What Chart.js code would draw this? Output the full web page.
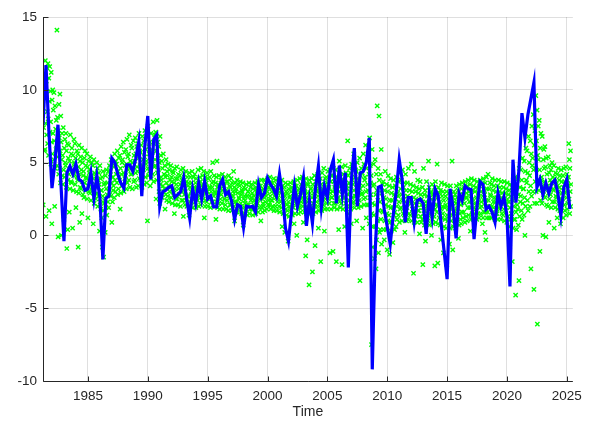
<!DOCTYPE html>
<html>
<head>
<meta charset="utf-8">
<title>Time series with individual readings</title>
<script src="https://cdn.jsdelivr.net/npm/chart.js@4/dist/chart.umd.min.js"></script>
<style>
  html, body { margin: 0; padding: 0; background: #ffffff; }
  #wrap { width: 589px; height: 426px; }
</style>
</head>
<body>
<div id="wrap"><canvas id="c" width="589" height="426"></canvas></div>
<script>
// Quarterly series: first quarter and spacing (years)
const firstQuarter = 1981.25;
const quarterStep = 0.25;

// Main quarterly series (blue line), one row per calendar year
const observed = [
  7.6, 11.7, 7.0,
  3.25, 5.0, 7.6, 3.5,
  -0.4, 4.3, 4.75, 4.2,
  4.9, 3.85, 3.7, 3.1,
  3.2, 4.3, 2.55, 4.1,
  2.6, -1.65, 2.55, 2.7,
  5.3, 5.0, 4.2, 3.6,
  3.25, 4.85, 4.85, 4.4,
  5.3, 6.45, 2.7, 6.1,
  8.2, 3.85, 6.6, 6.9,
  2.0, 3.0, 3.1, 3.3,
  3.4, 2.6, 2.8, 3.0,
  3.95, 2.5, 1.2, 3.2,
  2.2, 3.6, 2.5, 3.7,
  2.5, 2.7, 1.95, 1.95,
  3.4, 3.85, 2.8, 3.0,
  2.35, 1.1, 2.1, 2.0,
  0.55, 2.0, 1.95, 2.0,
  1.6, 3.5, 2.6, 2.9,
  3.95, 3.5, 3.2, 2.7,
  4.2, 2.8, 0.5, -0.4,
  1.55, 3.4, 2.0, 2.8,
  3.95, 0.65, 2.4, 0.85,
  3.2, 4.75, 1.9, 3.4,
  2.6, 4.5, 5.2, 2.2,
  4.8, 2.8, 4.3, -2.2,
  3.8, 6.0, 2.0, 4.3,
  4.4, 5.0, 6.7, -9.2,
  -1.0, 3.3, 3.4, 1.8,
  0.6, -0.6, 1.4, 3.0,
  5.2, 3.8, 0.9, 2.6,
  2.6, 0.9, 2.4, 2.5,
  2.2, 0.1, 2.75, 1.25,
  3.2, 2.75, 0.8, -1.1,
  -3.0, 3.2, 1.9, -0.2,
  2.9, 2.4, 3.4, 3.2,
  3.15, -0.25, 2.0, 3.7,
  3.5, 1.8, 2.0, 1.6,
  0.9, 2.9, 2.0, 2.65,
  1.3, -3.5, 5.2, 2.25,
  4.5, 8.4, 6.7, 8.3,
  9.4, 10.5, 3.3, 3.85,
  2.8, 3.6, 2.9, 3.6,
  3.8, 2.9, 1.35, 3.3,
  3.85, 1.8
];

// Individual readings (green crosses), one list per quarter
const individual1980s = [
  [8.2, 11.4, 6.6, 9.0, 2.1, 7.4, 10.1, 5.8],
  [9.6, 5.9, 12.0, 7.7, 1.3, 10.6, 6.9, 11.5, 8.5],
  [6.3, 11.8, 8.0, 5.5, 10.8, 1.7, 9.2, 11.6, 7.1, 9.9],
  [7.8, 4.9, 11.2, 6.4, 0.8, 9.3, 5.6, 10.0, 7.0, 8.6],
  [5.2, 9.8, 6.5, 2.0, 8.9, 4.6, 7.3, 5.9, 7.9],
  [6.0, 14.1, 4.8, 8.1, 5.4, -0.1, 7.2, 4.2, 9.0, 6.7],
  [4.6, 9.7, 5.8, 3.6, 8.2, 6.4, 0.0, 5.2, 7.0, 4.1],
  [5.5, 3.5, 7.4, 4.5, 1.1, 6.0, 4.0, 6.6, 5.0],
  [4.8, 7.0, 3.3, 5.8, -0.9, 4.3, 6.3, 0.4, 3.8, 5.3],
  [6.2, 4.2, 1.6, 5.1, 3.2, 6.9, 4.6, 3.7, 5.6],
  [3.6, 6.0, 4.5, 0.5, 5.5, 3.1, 4.1, 6.6, 5.0],
  [4.9, 6.3, 3.5, 5.3, 1.9, 4.4, 3.0, 5.8, 4.0],
  [3.8, 5.6, -0.8, 4.7, 2.9, 6.2, 4.2, 0.9, 5.1, 3.3],
  [5.4, 3.2, 4.5, 6.0, 1.5, 3.7, 5.0, 2.8, 4.1],
  [4.4, 2.6, 5.3, 3.6, 5.8, 3.1, 4.8, 4.0],
  [3.9, 5.6, 2.5, 4.7, 1.2, 3.4, 5.1, 3.0, 4.3],
  [4.5, 2.9, 5.4, 3.7, 2.4, 4.1, 5.0, 3.3],
  [3.1, 4.8, 0.8, 3.9, 5.2, 2.2, 4.3, 2.7, 3.5],
  [4.2, 2.5, 3.3, 5.0, 2.9, 4.6, 2.0, 3.8],
  [2.7, 4.3, 3.5, 0.3, 4.8, 2.3, 3.9, 1.8, 3.1],
  [3.1, 1.2, 4.0, -0.8, 2.7, 4.4, 1.7, -1.5, 3.5, 2.2],
  [2.4, 3.6, 0.2, 4.1, 1.9, 3.2, 4.5, 1.4, 2.8],
  [3.6, 2.3, 4.4, 1.9, 3.2, 4.8, 2.8, 4.0],
  [4.4, 2.7, 5.2, 3.6, 0.9, 4.8, 2.3, 4.0, 3.1],
  [3.4, 4.7, 2.6, 5.6, 3.8, 3.0, 5.1, 4.2],
  [4.9, 3.6, 5.8, 2.8, 4.4, 3.2, 5.3, 4.0],
  [3.8, 5.5, 1.8, 4.6, 2.9, 6.1, 4.2, 3.4, 5.0],
  [5.2, 3.5, 6.4, 4.3, 3.0, 5.7, 3.9, 4.8],
  [4.1, 5.9, 3.2, 4.9, 6.6, 3.6, 5.4, 4.5],
  [5.6, 3.8, 6.9, 4.6, 3.3, 5.1, 4.2, 6.2],
  [4.2, 6.0, 3.2, 5.0, 4.6, 6.5, 3.7, 5.5],
  [5.1, 3.8, 6.7, 4.3, 5.6, 3.3, 6.1, 4.7],
  [4.4, 6.3, 3.4, 5.3, 7.0, 3.9, 5.8, 4.8],
  [5.7, 3.8, 6.2, 4.3, 3.3, 6.8, 4.7, 5.2],
  [4.5, 6.5, 3.5, 5.4, 7.2, 4.0, 5.9, 4.9]
];

const individual1990s = [
  [5.1, 3.6, 6.8, 1.0, 4.6, 7.5, 4.1, 6.1, 5.6],
  [4.4, 6.4, 3.4, 5.4, 7.0, 3.9, 5.9, 4.9],
  [5.7, 4.2, 7.8, 3.7, 6.3, 4.7, 6.9, 5.2],
  [4.8, 7.1, 2.5, 5.8, 3.8, 7.9, 4.3, 6.4, 5.3],
  [4.5, 6.1, 3.0, 5.0, 2.2, 6.8, 3.5, 5.5, 4.0],
  [3.8, 5.1, 2.6, 4.6, 3.4, 5.6, 3.0, 4.2],
  [3.2, 4.8, 1.8, 4.0, 2.8, 5.2, 3.6, 2.4, 4.4],
  [4.1, 2.7, 4.9, 3.4, 2.3, 4.5, 3.0, 3.8],
  [3.3, 4.8, 2.6, 4.0, 3.7, 2.2, 4.4, 3.0],
  [4.3, 2.9, 3.6, 1.5, 4.6, 3.2, 2.1, 3.9, 2.5],
  [3.5, 4.7, 2.5, 3.9, 2.1, 4.2, 3.2, 2.8],
  [2.8, 4.1, 3.5, 2.0, 4.5, 3.1, 2.4, 3.8],
  [3.8, 2.4, 4.6, 1.3, 3.1, 4.2, 2.8, 3.5, 2.1],
  [3.0, 4.4, 2.4, 3.7, 2.0, 4.0, 2.7, 3.4],
  [2.7, 3.6, 1.4, 4.3, 2.3, 3.3, 4.0, 2.0, 3.0],
  [3.6, 2.3, 4.4, 3.0, 1.9, 4.0, 2.6, 3.3],
  [2.9, 4.2, 2.3, 3.6, 1.9, 3.9, 2.6, 3.2],
  [3.3, 2.4, 4.5, 3.0, 2.0, 3.6, 2.7, 4.0],
  [3.7, 2.1, 4.6, 2.8, 3.4, 2.4, 4.1, 3.1],
  [2.7, 4.4, 3.4, 1.2, 3.7, 2.0, 4.0, 2.4, 3.0],
  [3.6, 2.3, 4.3, 3.0, 2.0, 3.9, 2.7, 3.3],
  [2.6, 4.0, 3.3, 1.9, 4.4, 3.0, 2.3, 3.6],
  [3.3, 5.0, 2.3, 3.7, 2.7, 4.1, 2.0, 3.0],
  [2.9, 3.6, 1.1, 4.0, 2.3, 5.1, 3.3, 1.9, 2.6],
  [3.5, 2.2, 4.1, 2.9, 1.8, 3.2, 2.5, 3.8],
  [2.8, 3.8, 2.2, 4.2, 3.1, 1.8, 3.5, 2.5],
  [3.4, 2.5, 4.0, 2.1, 3.1, 1.8, 3.7, 2.8],
  [2.4, 3.7, 3.0, 1.7, 4.1, 2.7, 3.4, 2.1],
  [3.3, 2.1, 3.9, 2.7, 1.7, 3.6, 2.4, 3.0],
  [2.7, 4.4, 2.0, 3.3, 1.0, 3.6, 2.3, 3.0, 1.6],
  [3.2, 2.3, 3.8, 1.6, 2.9, 2.0, 3.5, 2.6],
  [2.5, 3.4, 1.9, 3.7, 2.2, 2.8, 1.5, 3.1],
  [3.0, 1.9, 3.6, 0.7, 2.5, 3.3, 1.5, 2.7, 2.2],
  [2.4, 3.2, 1.8, 3.5, 2.1, 2.7, 1.4, 3.0],
  [3.0, 2.1, 3.6, 1.5, 2.7, 1.8, 3.3, 2.4],
  [2.6, 3.5, 1.8, 2.9, 1.4, 3.2, 2.1, 2.4],
  [2.7, 1.8, 3.6, 2.4, 1.5, 3.3, 2.1, 3.0],
  [3.1, 2.2, 3.7, 1.6, 2.8, 3.4, 1.9, 2.5],
  [2.5, 3.4, 1.0, 2.8, 3.8, 1.9, 3.1, 1.6, 2.2],
  [3.2, 2.0, 3.8, 2.6, 1.7, 3.5, 2.3, 2.9]
];

const individual2000s = [
  [2.7, 3.6, 1.8, 3.0, 3.9, 2.1, 3.3, 2.4],
  [3.3, 2.1, 4.0, 2.7, 1.8, 3.6, 2.4, 3.0],
  [2.4, 3.6, 2.0, 3.3, 3.9, 1.7, 2.7, 3.0],
  [3.2, 2.0, 3.8, 2.6, 1.7, 3.5, 2.3, 2.9],
  [2.6, 3.9, 2.0, 3.2, 1.6, 3.5, 2.3, 2.9],
  [3.1, 1.9, 3.8, 0.6, 2.5, 3.4, 1.5, 2.8, 2.2],
  [2.4, 3.3, 0.2, 2.7, 3.6, 1.8, 3.0, 1.4, 2.1],
  [2.9, 1.7, 3.5, -0.4, 2.3, 3.2, 1.3, 2.6, 2.0],
  [2.7, 3.6, 1.8, 3.0, 2.1, 3.3, 1.4, 2.4],
  [3.1, 1.9, 3.7, 0.8, 2.5, 3.4, 1.5, 2.8, 2.2],
  [2.5, 3.4, 0.0, 2.8, 3.8, 1.9, 3.1, 1.5, 2.2],
  [3.2, 1.9, 3.9, 2.6, 1.6, 3.5, 2.3, 2.9],
  [2.6, 4.0, 2.0, 3.3, 0.9, 3.6, 2.3, 1.6, 3.0],
  [3.2, 1.9, -1.4, 3.9, 2.6, 1.5, 3.5, -0.3, 2.3, 2.9],
  [2.5, 3.5, 1.9, -3.4, 3.8, 2.2, 2.9, 1.5, 3.2],
  [3.2, 1.9, 3.9, 2.6, -2.5, 3.5, 1.5, 2.2, 2.9],
  [2.7, 4.1, 2.0, -0.7, 3.3, 1.6, 3.7, 2.3, 3.0],
  [3.1, 2.0, 4.2, 2.7, 0.5, 3.8, 1.7, 3.4, 2.4],
  [2.8, 3.9, -1.8, 2.1, 3.5, 1.7, 4.3, 2.4, 3.1],
  [3.2, 2.1, 4.6, 2.8, 0.3, 3.5, 1.8, 3.9, 2.5],
  [2.9, 4.0, 2.2, 3.6, 1.8, 4.4, 2.5, 3.2],
  [3.3, 2.2, 4.5, -1.2, 2.9, 3.7, 1.8, 4.1, 2.6],
  [2.6, 4.1, 3.0, -1.1, 4.6, 2.2, 3.7, 1.9, 3.3],
  [3.2, 2.2, 4.5, 2.9, -1.8, 3.6, 1.8, 4.0, 2.5],
  [2.6, 3.8, 0.4, 3.0, 5.1, 2.3, 4.2, 1.9, 3.4],
  [3.4, 2.2, 4.7, -2.0, 2.6, 3.8, 1.8, 4.2, 3.0],
  [2.6, 3.8, 0.6, 3.0, 4.8, 2.2, 4.3, 1.8, 3.4],
  [3.2, 2.0, 6.5, 2.8, 4.1, 1.5, 3.6, 2.4, 4.6],
  [3.0, 4.3, 1.8, 3.4, 0.8, 4.9, 2.6, 3.8, 2.2],
  [3.5, 2.3, 5.6, 3.1, 1.9, 4.0, 2.7, 4.5],
  [2.7, 4.4, 1.0, 3.1, 5.0, 2.3, 3.9, 1.9, 3.5],
  [3.6, 2.4, 5.3, -3.1, 3.2, 4.1, 2.0, 4.6, 2.8],
  [2.9, 4.3, 0.5, 3.4, 5.6, 2.5, 4.9, 2.1, 3.8],
  [4.0, 2.6, 6.2, 3.0, 1.2, 4.6, 2.1, 5.2, 3.5],
  [3.1, 5.6, 2.1, 4.2, 0.8, 6.7, 2.6, 4.8, 3.6],
  [2.8, 4.1, -7.5, 1.5, 5.9, 2.2, -0.8, 3.4, 0.6, 4.9],
  [1.4, 3.5, -1.6, 2.1, 5.2, 0.6, 2.8, -2.3, 4.2, -0.3],
  [3.1, 8.9, 1.0, 2.4, 4.6, -1.2, 1.7, 8.2, 3.8, 0.2],
  [2.3, 0.4, 4.2, 1.1, 5.9, -0.6, 2.9, 1.7, 3.5],
  [1.6, 3.7, 0.4, 2.6, -0.3, 3.1, 1.0, 4.4, 2.1]
];

const individual2010s = [
  [2.5, 0.4, 3.5, 1.5, -1.0, 3.0, 1.0, 4.1, 2.0],
  [1.4, 3.4, -1.3, 2.4, 0.9, 3.9, 1.9, 0.3, 2.9],
  [2.4, 0.9, 3.3, -0.5, 1.9, 3.8, 1.4, 2.8, 0.4],
  [1.6, 3.4, 2.5, 0.6, 4.0, 2.0, 1.1, 2.9],
  [2.7, 1.4, 3.7, 2.3, 0.9, 4.3, 1.8, 3.2],
  [1.9, 3.8, 2.8, 1.0, 4.5, 2.4, 1.5, 3.3],
  [2.7, 1.4, 3.6, 0.2, 2.3, 4.2, 1.9, 3.1, 1.0],
  [1.9, 3.6, 2.7, 1.1, 4.6, 2.3, 1.5, 3.1],
  [2.6, 1.4, 3.5, 2.2, 4.9, 1.0, 3.0, 1.8],
  [1.8, 3.4, -2.6, 2.6, 0.9, 4.4, 2.2, 1.4, 3.0],
  [2.5, 1.3, 3.3, 2.1, 0.9, 3.8, 1.7, 2.9],
  [1.7, 3.2, 0.1, 2.4, 3.7, 1.3, 2.8, 0.9, 2.1],
  [2.5, 1.1, 3.3, -2.0, 1.9, 4.6, 1.5, 2.8, 0.7],
  [1.7, 3.1, -0.4, 2.3, 0.9, 3.7, 2.0, 1.3, 2.7],
  [2.2, 1.0, 5.1, 1.8, 3.3, 0.7, 2.6, 1.5, 2.9],
  [1.4, 3.0, 0.0, 2.5, 3.5, 1.1, 2.1, 0.8, 2.8],
  [2.3, 1.3, 3.3, -2.1, 1.8, 3.7, 0.9, 2.8, 2.1],
  [1.6, 4.9, 2.6, -1.9, 0.8, 3.3, 2.1, 1.2, 2.9],
  [2.3, 0.7, 3.1, -0.3, 1.8, 3.6, 1.2, 2.7, 2.0],
  [1.5, 3.0, -1.2, 2.4, 0.6, 3.5, 1.9, 1.1, 2.7],
  [2.1, 0.5, 3.0, -2.0, 1.4, 3.4, 1.0, 2.5, 1.8],
  [1.3, 2.9, -0.6, 2.2, 0.5, 3.4, 1.8, 1.0, 2.6],
  [2.0, 5.1, 1.4, -1.0, 2.6, 0.6, 3.0, 1.7, 2.3],
  [1.1, 2.8, 0.5, 2.2, 3.4, 1.5, 2.6, 1.8],
  [1.9, 3.1, -0.2, 2.4, 0.7, 3.5, 1.5, 2.8, 1.1],
  [2.1, 0.8, 3.2, 1.6, 3.6, 2.5, 1.2, 2.8],
  [1.6, 3.3, 2.2, 0.9, 3.7, 2.6, 1.3, 2.9],
  [2.6, 1.0, 3.4, 1.9, 3.8, 1.4, 3.0, 2.3],
  [1.9, 3.5, 0.3, 2.7, 1.1, 3.9, 2.3, 1.5, 3.1],
  [2.5, 1.1, 3.4, 1.9, 3.8, 1.5, 3.0, 2.2],
  [1.8, 3.3, 2.6, 1.1, 3.7, 2.2, 1.5, 2.9],
  [2.6, 1.2, 3.4, 1.9, 3.8, 1.5, 3.0, 2.3],
  [2.0, 3.5, 0.8, 2.7, 1.2, 3.9, 2.4, 1.6, 3.1],
  [2.8, 0.2, 3.6, 1.6, -0.3, 2.4, 4.0, 1.2, 3.2, 2.0],
  [1.6, 4.2, 2.4, 1.2, 3.2, 2.0, 3.6, 2.8],
  [2.7, 1.2, 3.5, 2.0, 3.9, 1.6, 3.1, 2.3],
  [1.9, 3.4, 2.6, 1.1, 3.8, 2.3, 1.5, 3.0],
  [2.6, 1.5, 3.4, 1.1, 2.2, 3.8, 1.9, 3.0],
  [1.8, 3.3, 2.2, 1.1, 3.7, 2.6, 1.5, 2.9],
  [2.5, 1.4, 3.3, 1.8, 3.7, 1.0, 2.9, 2.2]
];

const individual2020s = [
  [1.7, 3.2, 2.1, 0.9, 3.6, 2.5, 1.3, 2.8],
  [2.3, 0.6, 3.1, -0.8, 1.9, 3.5, 1.1, 2.7, 1.5],
  [1.5, 3.3, -1.8, 2.4, 0.5, 3.8, 2.0, 1.1, 2.8],
  [2.5, 1.1, 4.0, -4.1, 1.6, 3.0, 0.4, 3.5, 2.1],
  [1.8, 3.9, 0.7, 2.8, -3.1, 4.6, 1.3, 3.3, 2.3],
  [2.7, 4.5, 1.7, 3.8, 1.1, 5.3, 2.2, 3.2],
  [3.2, 1.4, 5.1, 2.6, 0.0, 4.4, 2.0, 6.0, 3.8],
  [3.6, 5.8, 2.4, 4.3, 1.7, 6.8, 3.0, 5.0],
  [4.1, 2.0, 6.5, 3.4, -2.3, 5.6, 2.7, 7.5, 4.8],
  [5.3, 3.0, 8.3, 4.5, -3.7, 6.2, 2.2, 7.2, 3.7],
  [4.6, 9.6, 3.0, 6.5, 2.2, 8.6, -6.1, 5.5, 3.8, 7.5],
  [5.2, 3.1, 7.9, 4.5, -1.1, 6.0, 2.4, 7.0, 3.8],
  [4.0, 2.2, 6.8, 3.4, 0.0, 5.2, 2.8, 5.9, 4.6],
  [3.7, 6.1, 2.6, 4.7, -0.1, 5.3, 2.1, 4.2, 3.2],
  [3.4, 2.0, 5.4, 2.9, 0.9, 4.3, 2.5, 4.8, 3.8],
  [2.8, 4.5, 1.9, 3.6, 5.0, 2.3, 4.0, 3.2],
  [3.1, 4.8, 0.5, 2.3, 3.9, 1.9, 4.3, 2.7, 3.5],
  [2.6, 4.2, 1.2, 3.4, 1.8, 4.6, 3.0, 2.2, 3.8],
  [3.3, 1.7, 4.1, 0.8, 2.5, 4.5, 2.1, 3.7, 2.9],
  [2.5, 4.1, 1.2, 3.3, 4.6, 2.1, 3.7, 1.7, 2.9],
  [3.0, 4.7, 1.4, 2.6, 4.2, 1.8, 3.8, 2.2, 3.4],
  [4.0, 6.3, 2.5, 5.2, 1.5, 4.6, 3.0, 5.8, 2.0, 3.5]
];

// Axis ticks
const xTicks = [1985, 1990, 1995, 2000, 2005, 2010, 2015, 2020, 2025];
const yTicks = [-10, -5, 0, 5, 10, 15];
const xLabel = 'Time';

// Build point lists for the library
const quarterOf = i => firstQuarter + i * quarterStep;

const linePoints = observed.map((v, i) => ({ x: quarterOf(i), y: v }));

const readingRows = [].concat(individual1980s, individual1990s, individual2000s,
                              individual2010s, individual2020s);
const cloudPoints = [];
readingRows.forEach((row, i) => {
  const q = quarterOf(i);
  row.forEach((v, k) => {
    // readings are spread across the span of their quarter
    cloudPoints.push({ x: q - quarterStep / 2 + (k + 0.5) * quarterStep / row.length, y: v });
  });
});

const axisColor = '#262626';
const fontFamily = '"Liberation Sans", Arial, Helvetica, sans-serif';

// Axis lines and inward tick marks, drawn over the data
const axesPlugin = {
  id: 'inwardAxes',
  afterDatasetsDraw(chart) {
    const { ctx, chartArea: a, scales: { x, y } } = chart;
    ctx.save();
    ctx.strokeStyle = axisColor;
    ctx.lineWidth = 1;
    ctx.beginPath();
    const left = Math.round(a.left) + 0.5;
    const bottom = Math.round(a.bottom) + 0.5;
    ctx.moveTo(left, a.top);
    ctx.lineTo(left, bottom);
    ctx.lineTo(a.right, bottom);
    xTicks.forEach(v => {
      const px = Math.round(x.getPixelForValue(v)) + 0.5;
      ctx.moveTo(px, bottom);
      ctx.lineTo(px, bottom - 5);
    });
    yTicks.forEach(v => {
      const py = Math.round(y.getPixelForValue(v)) + 0.5;
      ctx.moveTo(left, py);
      ctx.lineTo(left + 5, py);
    });
    ctx.stroke();
    ctx.restore();
  }
};

new Chart(document.getElementById('c'), {
  type: 'scatter',
  data: {
    datasets: [
      {
        type: 'line',
        data: linePoints,
        borderColor: '#0000ff',
        borderWidth: 3.2,
        pointRadius: 0,
        tension: 0,
        fill: false,
        order: 1
      },
      {
        type: 'scatter',
        data: cloudPoints,
        pointStyle: 'crossRot',
        pointRadius: 3,
        borderColor: '#00ff00',
        backgroundColor: '#00ff00',
        borderWidth: 1.4,
        order: 2
      }
    ]
  },
  options: {
    responsive: false,
    animation: false,
    devicePixelRatio: 1,
    layout: { padding: { left: 0, top: 17, right: 12, bottom: 0 } },
    plugins: { legend: { display: false }, tooltip: { enabled: false } },
    scales: {
      x: {
        type: 'linear',
        min: 1981.25,
        max: 2025.5,
        afterBuildTicks: s => { s.ticks = xTicks.map(v => ({ value: v })); },
        afterFit: s => { s.height = 45; },
        grid: { color: 'rgba(38,38,38,0.15)', drawTicks: false },
        border: { display: false },
        ticks: {
          padding: 7,
          color: axisColor,
          font: { family: fontFamily, size: 13.5 },
          callback: v => String(v)
        },
        title: {
          display: true,
          text: xLabel,
          color: axisColor,
          font: { family: fontFamily, size: 14 },
          padding: { top: 0, bottom: 5 }
        }
      },
      y: {
        type: 'linear',
        min: -10,
        max: 15,
        afterBuildTicks: s => { s.ticks = yTicks.map(v => ({ value: v })); },
        afterFit: s => { s.width = 43; },
        grid: { color: 'rgba(38,38,38,0.15)', drawTicks: false },
        border: { display: false },
        ticks: {
          padding: 6,
          color: axisColor,
          font: { family: fontFamily, size: 13.5 },
          callback: v => String(v)
        }
      }
    }
  },
  plugins: [axesPlugin]
});
</script>
</body>
</html>
